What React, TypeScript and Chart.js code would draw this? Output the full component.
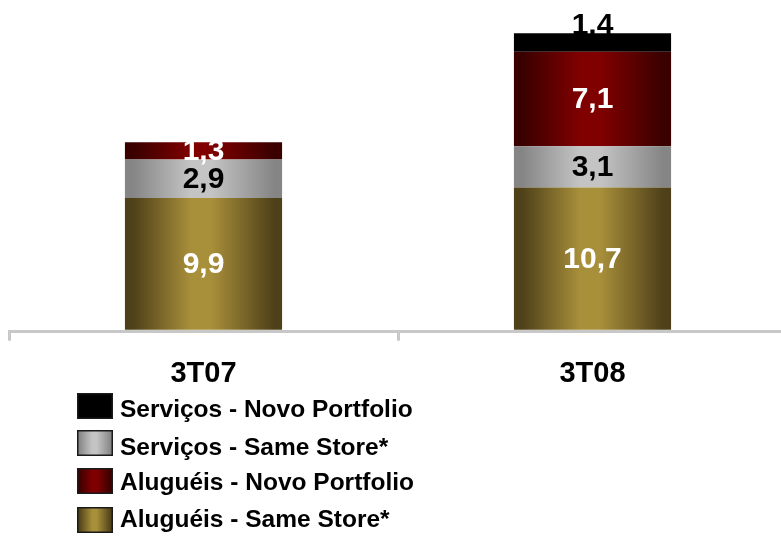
import React, { useEffect, useRef } from "react";
import { Chart, registerables } from "chart.js";

Chart.register(...registerables);

const categories = ["3T07", "3T08"];
const aluguelSameStore = [9.9, 10.7];
const servicosSameStore = [2.9, 3.1];
const aluguelNovo = [1.3, 7.1];
const servicosNovo = [null, 1.4];

const legendLabels = [
  "Serviços - Novo Portfolio",
  "Serviços - Same Store*",
  "Aluguéis - Novo Portfolio",
  "Aluguéis - Same Store*",
];

const FONT = "'Liberation Sans', Arial, sans-serif";
const BAR_PCT = 0.404;

type Pal = { edge: string; mid: string; label: string };
const GOLD: Pal = { edge: "#4E4019", mid: "#A88F3A", label: "#FFFFFF" };
const GRAY: Pal = { edge: "#858585", mid: "#C4C4C4", label: "#000000" };
const RED: Pal = { edge: "#3A0000", mid: "#800000", label: "#FFFFFF" };
const BLACK: Pal = { edge: "#000000", mid: "#000000", label: "#000000" };

function grad(ctx: CanvasRenderingContext2D, x0: number, x1: number, p: Pal) {
  const g = ctx.createLinearGradient(x0, 0, x1, 0);
  g.addColorStop(0, p.edge);
  g.addColorStop(0.05, p.edge);
  g.addColorStop(0.42, p.mid);
  g.addColorStop(0.55, p.mid);
  g.addColorStop(0.95, p.edge);
  g.addColorStop(1, p.edge);
  return g;
}

function barFill(p: Pal) {
  return (c: any) => {
    const chart = c.chart;
    const area = chart.chartArea;
    if (!area || c.dataIndex === undefined || !chart.scales.x) return p.mid;
    const cx = chart.scales.x.getPixelForValue(c.dataIndex);
    const w = ((area.right - area.left) / categories.length) * BAR_PCT;
    return grad(chart.ctx, cx - w / 2, cx + w / 2, p);
  };
}

const fmt = (v: number) => v.toFixed(1).replace(".", ",");

const labelPlugin = {
  id: "segLabels",
  afterDatasetsDraw(chart: any) {
    const ctx = chart.ctx as CanvasRenderingContext2D;
    const pals = [GOLD, GRAY, RED, BLACK];
    ctx.save();
    ctx.font = `bold 30px ${FONT}`;
    ctx.textAlign = "center";
    chart.data.datasets.forEach((ds: any, di: number) => {
      const meta = chart.getDatasetMeta(di);
      meta.data.forEach((el: any, i: number) => {
        const v = ds.data[i];
        if (v === null || v === undefined) return;
        ctx.fillStyle = pals[di].label;
        if (di === 3) {
          ctx.textBaseline = "alphabetic";
          ctx.fillText(fmt(v), el.x, el.y + 1);
        } else {
          ctx.textBaseline = "middle";
          ctx.fillText(fmt(v), el.x, (el.y + el.base) / 2 + 1);
        }
      });
    });
    ctx.restore();
  },
};

const legendPlugin = {
  id: "customLegend",
  afterDraw(chart: any) {
    const ctx = chart.ctx as CanvasRenderingContext2D;
    const pals = [BLACK, GRAY, RED, GOLD];
    const boxTops = [393, 430, 468, 507];
    const baselines = [417, 455, 490, 527];
    ctx.save();
    legendLabels.forEach((t, i) => {
      const x = 77, w = 36, h = 26, y = boxTops[i];
      ctx.fillStyle = grad(ctx, x, x + w, pals[i]);
      ctx.fillRect(x, y, w, h);
      ctx.strokeStyle = "#1A1A1A";
      ctx.lineWidth = 1.5;
      ctx.strokeRect(x + 0.75, y + 0.75, w - 1.5, h - 1.5);
      ctx.fillStyle = "#000000";
      ctx.font = `bold 24.5px ${FONT}`;
      ctx.textAlign = "left";
      ctx.textBaseline = "alphabetic";
      ctx.fillText(t, 120, baselines[i]);
    });
    ctx.restore();
  },
};

export default function App() {
  const ref = useRef<HTMLCanvasElement | null>(null);
  useEffect(() => {
    document.body.style.margin = "0";
    document.body.style.overflow = "hidden";
    const canvas = ref.current!;
    const chart = new Chart(canvas, {
      type: "bar",
      data: {
        labels: categories,
        datasets: [
          { label: legendLabels[3], data: aluguelSameStore, backgroundColor: barFill(GOLD) },
          { label: legendLabels[1], data: servicosSameStore, backgroundColor: barFill(GRAY) },
          { label: legendLabels[2], data: aluguelNovo, backgroundColor: barFill(RED) },
          { label: legendLabels[0], data: servicosNovo as any, backgroundColor: barFill(BLACK) },
        ],
      },
      options: {
        responsive: false,
        animation: false,
        datasets: { bar: { barPercentage: BAR_PCT, categoryPercentage: 1, borderWidth: 0 } },
        layout: { padding: { left: 9, right: 3, top: 0, bottom: 128.5 } },
        plugins: { legend: { display: false }, tooltip: { enabled: false } },
        scales: {
          x: {
            stacked: true,
            offset: true,
            grid: {
              display: true,
              offset: true,
              drawOnChartArea: false,
              drawTicks: true,
              tickLength: 9,
              lineWidth: 3,
              color: "#C8C8C8",
            },
            border: { display: true, width: 3, color: "#C8C8C8" },
            ticks: {
              color: "#000000",
              padding: 16,
              font: { family: FONT, size: 29, weight: "bold" },
            },
          },
          y: {
            stacked: true,
            display: false,
            min: -0.15,
            max: 24.8,
          },
        },
      },
      plugins: [labelPlugin, legendPlugin],
    });
    return () => chart.destroy();
  }, []);
  return (
    <div style={{ width: 781, height: 536, overflow: "hidden", background: "#FFFFFF" }}>
      <canvas ref={ref} width={790} height={536} style={{ display: "block" }} />
    </div>
  );
}
